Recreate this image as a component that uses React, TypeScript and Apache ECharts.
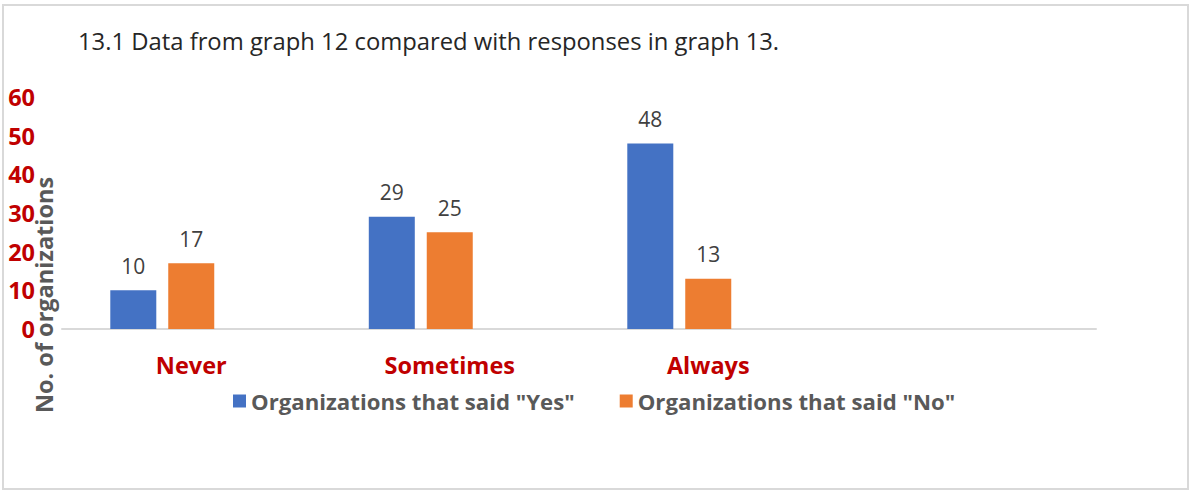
import React, { useEffect, useRef } from "react";
import * as echarts from "echarts";

const categories = ["Never", "Sometimes", "Always", ""];
const yesValues = [10, 29, 48, null];
const noValues = [17, 25, 13, null];
const placeholderValues = [null, null, null, null];
const yesName = 'Organizations that said "Yes"';
const noName = 'Organizations that said "No"';
const titleText = "13.1 Data from graph 12 compared with responses in graph 13.";
const yAxisTitle = "No. of organizations";

const FONT = "'Open Sans', 'Noto Sans', sans-serif";

export default function App() {
  const ref = useRef<HTMLDivElement>(null);
  useEffect(() => {
    if (!ref.current) return;
    const chart = echarts.init(ref.current, null, { renderer: "svg" });
    const labelStyle = {
      show: true,
      position: "top" as const,
      distance: 14,
      fontSize: 21,
      color: "#404040",
      fontFamily: FONT,
    };
    chart.setOption({
      animation: false,
      backgroundColor: "#ffffff",
      title: {
        text: titleText,
        left: 73,
        top: 24,
        textStyle: { fontSize: 23.8, fontWeight: "normal", color: "#262626", fontFamily: FONT },
      },
      legend: {
        data: [yesName, noName],
        left: 228,
        top: 385,
        icon: "rect",
        itemWidth: 13,
        itemHeight: 13,
        itemGap: 45,
        textStyle: { fontSize: 22.2, fontWeight: "bold", color: "#595959", fontFamily: FONT },
      },
      grid: { left: 62, right: 95, top: 97, bottom: 166, containLabel: false },
      xAxis: {
        type: "category",
        data: categories,
        axisTick: { show: false },
        axisLine: { lineStyle: { color: "#d9d9d9", width: 2 } },
        axisLabel: { margin: 24, fontSize: 23.5, fontWeight: "bold", color: "#c00000", fontFamily: FONT },
      },
      yAxis: {
        type: "value",
        min: 0,
        max: 60,
        interval: 10,
        axisLine: { show: false },
        axisTick: { show: false },
        splitLine: { show: false },
        axisLabel: { margin: 27, fontSize: 23.5, fontWeight: "bold", color: "#c00000", fontFamily: FONT },
      },
      series: [
        {
          name: yesName,
          type: "bar",
          data: yesValues,
          barWidth: 46,
          barGap: "26%",
          itemStyle: { color: "#4472c4" },
          label: labelStyle,
        },
        {
          name: noName,
          type: "bar",
          data: noValues,
          barWidth: 46,
          barGap: "26%",
          itemStyle: { color: "#ed7d31" },
          label: labelStyle,
        },
        {
          name: "placeholder",
          type: "bar",
          data: placeholderValues,
          barWidth: 46,
          barGap: "26%",
          itemStyle: { color: "transparent" },
        },
      ],
      graphic: [
        {
          type: "rect",
          shape: { x: 3, y: 5, width: 1185, height: 484 },
          style: { fill: "none", stroke: "#d9d9d9", lineWidth: 2 },
          silent: true,
        },
        {
          type: "text",
          x: 44,
          y: 295,
          rotation: Math.PI / 2,
          style: {
            text: yAxisTitle,
            fontSize: 23.5,
            fontWeight: "bold",
            fill: "#595959",
            fontFamily: FONT,
            align: "center",
            verticalAlign: "middle",
          },
          silent: true,
        },
      ],
    });
    return () => chart.dispose();
  }, []);
  return (
    <div
      ref={ref}
      style={{ position: "absolute", left: 0, top: 0, width: 1191, height: 495 }}
    />
  );
}
